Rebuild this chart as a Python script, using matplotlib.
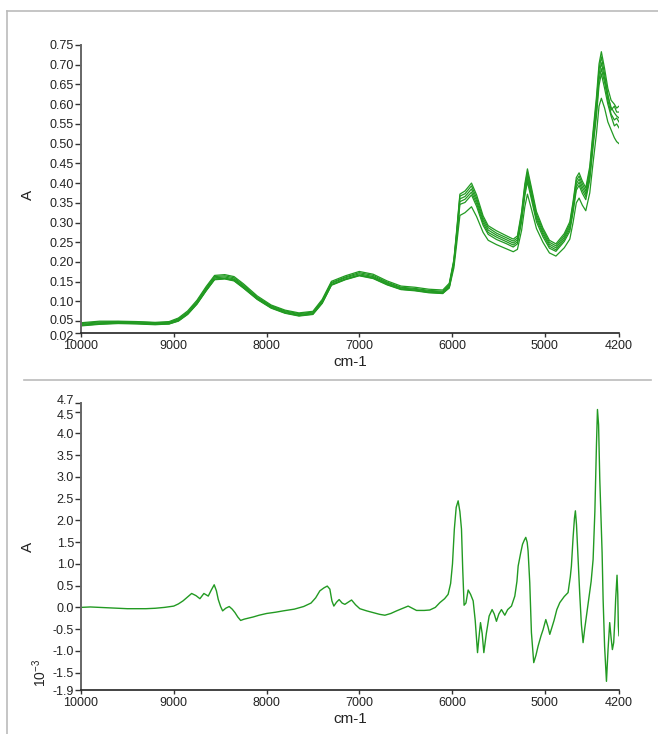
import matplotlib
matplotlib.use("Agg")
import matplotlib.pyplot as plt
import matplotlib.transforms as mtransforms
from matplotlib.lines import Line2D

plt.rcParams['font.family'] = ['Liberation Sans', 'DejaVu Sans']
plt.rcParams['mathtext.fontset'] = 'custom'
plt.rcParams['mathtext.rm'] = 'Liberation Sans'

# wavenumber grid of the raw spectra (cm-1)
wn_raw = [10000, 9800, 9600, 9400, 9200, 9050, 8950, 8850, 8750, 8650,
          8560, 8450, 8350, 8250, 8100, 7950, 7800, 7650, 7500, 7400,
          7300, 7150, 7000, 6850, 6700, 6550, 6400, 6250, 6100, 6030,
          5980, 5950, 5915, 5860, 5790, 5735, 5665, 5610, 5520, 5410,
          5340, 5295, 5250, 5215, 5187, 5145, 5090, 5020, 4950, 4880,
          4790, 4730, 4695, 4660, 4630, 4595, 4558, 4515, 4480, 4443,
          4415, 4390, 4355, 4320, 4285, 4250, 4225, 4200]

raw_1 = [0.046, 0.050, 0.050, 0.049, 0.047, 0.049, 0.058, 0.076, 0.103, 0.138,
         0.166, 0.168, 0.163, 0.145, 0.114, 0.091, 0.078, 0.071, 0.075, 0.105,
         0.151, 0.165, 0.176, 0.169, 0.152, 0.139, 0.136, 0.131, 0.129, 0.146,
         0.206, 0.280, 0.372, 0.380, 0.400, 0.370, 0.317, 0.292, 0.279, 0.266,
         0.258, 0.266, 0.327, 0.398, 0.436, 0.390, 0.328, 0.286, 0.255, 0.246,
         0.272, 0.302, 0.353, 0.414, 0.426, 0.405, 0.388, 0.442, 0.530, 0.618,
         0.702, 0.733, 0.690, 0.640, 0.610, 0.600, 0.590, 0.595]
raw_2 = [0.044, 0.048, 0.049, 0.048, 0.046, 0.047, 0.056, 0.073, 0.100, 0.135,
         0.163, 0.165, 0.160, 0.142, 0.111, 0.089, 0.076, 0.069, 0.073, 0.102,
         0.148, 0.162, 0.173, 0.166, 0.149, 0.136, 0.133, 0.128, 0.126, 0.143,
         0.203, 0.275, 0.367, 0.373, 0.393, 0.362, 0.311, 0.287, 0.273, 0.261,
         0.253, 0.261, 0.321, 0.391, 0.428, 0.383, 0.321, 0.281, 0.250, 0.241,
         0.267, 0.296, 0.347, 0.406, 0.418, 0.398, 0.380, 0.434, 0.520, 0.606,
         0.689, 0.720, 0.676, 0.625, 0.585, 0.595, 0.580, 0.580]
raw_3 = [0.042, 0.046, 0.047, 0.046, 0.044, 0.046, 0.054, 0.071, 0.097, 0.132,
         0.160, 0.162, 0.157, 0.139, 0.109, 0.087, 0.074, 0.067, 0.071, 0.100,
         0.146, 0.160, 0.170, 0.163, 0.147, 0.134, 0.131, 0.126, 0.124, 0.140,
         0.200, 0.270, 0.360, 0.366, 0.385, 0.355, 0.305, 0.281, 0.268, 0.256,
         0.248, 0.256, 0.315, 0.383, 0.420, 0.375, 0.315, 0.275, 0.245, 0.236,
         0.262, 0.290, 0.340, 0.398, 0.410, 0.390, 0.373, 0.425, 0.510, 0.594,
         0.675, 0.705, 0.665, 0.620, 0.592, 0.578, 0.570, 0.565]
raw_4 = [0.040, 0.044, 0.045, 0.045, 0.043, 0.044, 0.052, 0.069, 0.095, 0.129,
         0.157, 0.159, 0.155, 0.137, 0.107, 0.085, 0.072, 0.065, 0.069, 0.097,
         0.143, 0.157, 0.167, 0.161, 0.145, 0.132, 0.129, 0.124, 0.122, 0.137,
         0.197, 0.265, 0.353, 0.359, 0.377, 0.348, 0.299, 0.275, 0.263, 0.251,
         0.243, 0.251, 0.309, 0.375, 0.412, 0.368, 0.309, 0.270, 0.240, 0.231,
         0.257, 0.284, 0.333, 0.390, 0.402, 0.382, 0.366, 0.417, 0.500, 0.582,
         0.662, 0.690, 0.655, 0.610, 0.575, 0.560, 0.565, 0.555]
raw_5 = [0.038, 0.042, 0.044, 0.043, 0.041, 0.043, 0.050, 0.067, 0.093, 0.127,
         0.155, 0.157, 0.152, 0.134, 0.105, 0.083, 0.070, 0.063, 0.067, 0.095,
         0.141, 0.155, 0.165, 0.158, 0.142, 0.130, 0.127, 0.122, 0.120, 0.135,
         0.194, 0.260, 0.346, 0.351, 0.370, 0.341, 0.293, 0.270, 0.257, 0.246,
         0.238, 0.246, 0.302, 0.368, 0.403, 0.360, 0.302, 0.264, 0.235, 0.227,
         0.252, 0.278, 0.326, 0.382, 0.394, 0.374, 0.358, 0.408, 0.490, 0.570,
         0.648, 0.677, 0.640, 0.600, 0.570, 0.545, 0.550, 0.540]
raw_6 = [0.039, 0.043, 0.045, 0.044, 0.042, 0.043, 0.051, 0.068, 0.094, 0.128,
         0.156, 0.158, 0.153, 0.135, 0.106, 0.084, 0.071, 0.064, 0.068, 0.096,
         0.142, 0.156, 0.166, 0.159, 0.143, 0.131, 0.128, 0.123, 0.121, 0.134,
         0.185, 0.245, 0.318, 0.325, 0.340, 0.315, 0.275, 0.255, 0.244, 0.233,
         0.226, 0.232, 0.280, 0.340, 0.372, 0.335, 0.285, 0.250, 0.223, 0.215,
         0.236, 0.258, 0.300, 0.350, 0.362, 0.344, 0.330, 0.375, 0.450, 0.525,
         0.595, 0.615, 0.590, 0.555, 0.535, 0.515, 0.505, 0.500]

# derivative spectrum, values in units of 1e-3
wn_deriv = [10000, 9900, 9800, 9700, 9600, 9500, 9400, 9300, 9200, 9100,
            9000, 8950, 8900, 8850, 8807, 8760, 8718, 8675, 8628, 8595,
            8564, 8540, 8520, 8495, 8473, 8440, 8402, 8370, 8340, 8310,
            8279, 8240, 8200, 8143, 8080, 7999, 7900, 7820, 7700, 7600,
            7520, 7470, 7425, 7380, 7345, 7317, 7295, 7274, 7245, 7217,
            7185, 7155, 7120, 7083, 7040, 6994, 6920, 6850, 6780, 6724,
            6660, 6598, 6530, 6473, 6420, 6383, 6300, 6240, 6180, 6131,
            6080, 6042, 6015, 5995, 5975, 5955, 5934, 5915, 5898, 5885,
            5870, 5850, 5826, 5800, 5772, 5750, 5725, 5710, 5693, 5675,
            5657, 5630, 5600, 5568, 5545, 5521, 5495, 5467, 5431, 5400,
            5359, 5323, 5300, 5287, 5260, 5240, 5220, 5205, 5190, 5180,
            5162, 5144, 5119, 5095, 5072, 5040, 5018, 4989, 4965, 4946,
            4900, 4870, 4838, 4790, 4749, 4725, 4713, 4695, 4680, 4670,
            4658, 4641, 4623, 4605, 4587, 4570, 4551, 4520, 4500, 4479,
            4460, 4443, 4432, 4420, 4407, 4382, 4371, 4355, 4335, 4318,
            4300, 4285, 4271, 4257, 4245, 4236, 4221, 4213, 4207, 4200]
deriv_e3 = [0.00, 0.01, 0.00, -0.01, -0.02, -0.03, -0.03, -0.03, -0.02, 0.00,
            0.03, 0.08, 0.15, 0.24, 0.32, 0.27, 0.20, 0.32, 0.26, 0.40,
            0.52, 0.38, 0.18, 0.02, -0.08, -0.02, 0.02, -0.04, -0.12, -0.22,
            -0.30, -0.27, -0.25, -0.22, -0.18, -0.14, -0.11, -0.08, -0.04, 0.02,
            0.10, 0.22, 0.38, 0.45, 0.49, 0.42, 0.15, 0.03, 0.12, 0.18,
            0.10, 0.07, 0.12, 0.17, 0.06, -0.03, -0.08, -0.12, -0.16, -0.18,
            -0.14, -0.08, -0.02, 0.03, -0.03, -0.07, -0.07, -0.06, 0.00, 0.11,
            0.20, 0.30, 0.55, 1.00, 1.80, 2.30, 2.45, 2.20, 1.80, 0.90,
            0.05, 0.10, 0.40, 0.30, 0.15, -0.30, -1.04, -0.70, -0.35, -0.60,
            -1.04, -0.60, -0.20, -0.05, -0.15, -0.32, -0.15, -0.05, -0.18, -0.05,
            0.03, 0.26, 0.60, 0.95, 1.25, 1.45, 1.55, 1.61, 1.50, 1.30,
            0.57, -0.58, -1.27, -1.10, -0.89, -0.65, -0.51, -0.28, -0.45, -0.62,
            -0.30, -0.05, 0.11, 0.25, 0.34, 0.70, 0.95, 1.60, 2.05, 2.22,
            1.90, 1.10, 0.30, -0.40, -0.81, -0.50, -0.20, 0.30, 0.60, 1.10,
            2.20, 3.72, 4.55, 4.20, 2.95, 1.26, 0.18, -0.90, -1.70, -0.97,
            -0.35, -0.70, -0.97, -0.81, -0.30, 0.18, 0.74, 0.30, -0.43, -0.65]

x_ticks = [10000, 9000, 8000, 7000, 6000, 5000, 4200]
raw_yticks = [0.02, 0.05, 0.10, 0.15, 0.20, 0.25, 0.30, 0.35, 0.40, 0.45,
              0.50, 0.55, 0.60, 0.65, 0.70, 0.75]
deriv_yticks = [-1.9, -1.5, -1.0, -0.5, 0.0, 0.5, 1.0, 1.5, 2.0, 2.5,
                3.0, 3.5, 4.0, 4.5, 4.7]

green = '#229a22'


def style_axis(ax, yticks, fmt):
    ax.set_xlim(10000, 4200)
    ax.set_ylim(yticks[0], yticks[-1])
    ax.set_xticks(x_ticks)
    ax.set_xticklabels([str(t) for t in x_ticks])
    ax.set_yticks(yticks)
    ax.set_yticklabels([fmt % t for t in yticks])
    for s in ['top', 'right']:
        ax.spines[s].set_visible(False)
    ax.spines['left'].set_color('#666666')
    ax.spines['left'].set_linewidth(1.4)
    ax.spines['bottom'].set_color('#222222')
    ax.spines['bottom'].set_linewidth(1.2)
    ax.tick_params(axis='y', length=4, width=1, pad=1, labelsize=9,
                   colors='#333333', labelcolor='#222222')
    ax.tick_params(axis='x', length=3, width=1, pad=2, labelsize=9,
                   colors='#333333', labelcolor='#222222')
    ax.set_xlabel('cm-1', fontsize=11, labelpad=0, color='#222222')
    ax.xaxis.set_label_coords(0.5, -0.075)
    ax.set_ylabel('A', fontsize=11, color='#222222')


def nudge(label, dy_px):
    # shift one crowded tick label up/down a few pixels
    label.set_transform(label.get_transform() +
                        mtransforms.ScaledTranslation(0, dy_px / 100.0, fig.dpi_scale_trans))


fig = plt.figure(figsize=(6.58, 7.34), dpi=100)

ax1 = fig.add_axes([0.1231, 0.5463, 0.8176, 0.3924])
for spec in [raw_6, raw_5, raw_4, raw_3, raw_2, raw_1]:
    ax1.plot(wn_raw, spec, color=green, lw=0.9)
style_axis(ax1, raw_yticks, '%.2f')
ax1.yaxis.set_label_coords(-0.085, 0.48)
labs1 = ax1.get_yticklabels()
nudge(labs1[0], -2)
nudge(labs1[1], 1.5)

ax2 = fig.add_axes([0.1231, 0.0599, 0.8176, 0.3911])
ax2.plot(wn_deriv, deriv_e3, color=green, lw=1.0)
style_axis(ax2, deriv_yticks, '%.1f')
ax2.yaxis.set_label_coords(-0.085, 0.5)
labs2 = ax2.get_yticklabels()
nudge(labs2[-1], 3)
nudge(labs2[-2], -2.5)
ax2.text(-0.077, 0.06, r'$\mathregular{10^{-3}}$', transform=ax2.transAxes,
         rotation=90, fontsize=10, ha='center', va='center', color='#222222')

# panel frame lines
fw, fh = 658.0, 734.0
fig.add_artist(Line2D([7 / fw, 7 / fw], [0, 1 - 11 / fh], color='#bbbbbb', lw=1.2))
fig.add_artist(Line2D([7 / fw, 1], [1 - 11 / fh, 1 - 11 / fh], color='#bbbbbb', lw=1.2))
fig.add_artist(Line2D([24 / fw, 651 / fw], [1 - 380 / fh, 1 - 380 / fh], color='#bbbbbb', lw=1.2))

fig.savefig('out.png', dpi=100)
